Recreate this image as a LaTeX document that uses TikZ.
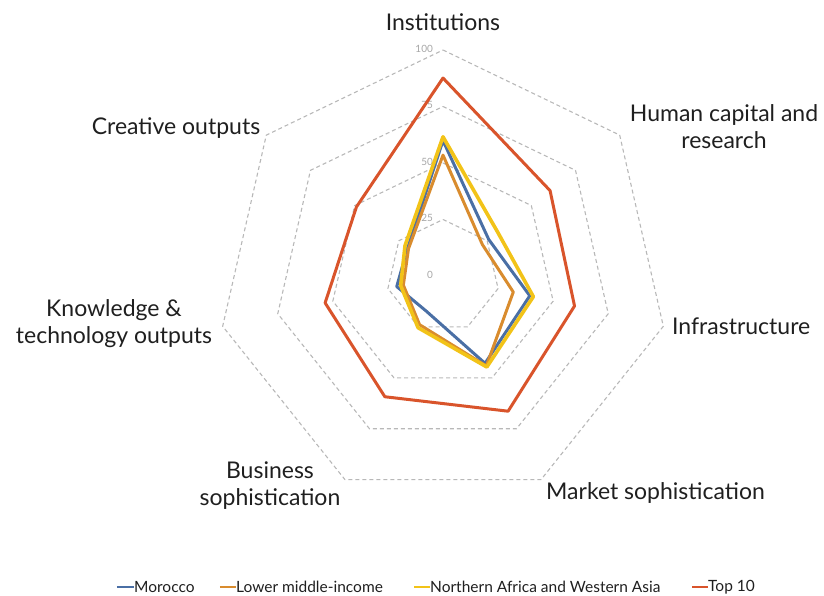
\documentclass[tikz,border=0pt]{standalone}
\usepackage{fontspec}
\setmainfont{Lato}
\usepackage{tikz}
\usetikzlibrary{positioning}

\definecolor{morocco}{HTML}{4A6FA5}
\definecolor{lowmid}{HTML}{D98C2E}
\definecolor{nawa}{HTML}{F2C318}
\definecolor{topten}{HTML}{D9542B}
\definecolor{gridgrey}{HTML}{B8B8B8}
\definecolor{tickgrey}{HTML}{A6A6A6}
\definecolor{labelgrey}{HTML}{1F1F1F}

% one series: colour, then the seven values clockwise from Institutions
\newcommand{\radarseries}[8]{%
  \draw[series,#1] (90:#2) -- (38.571:#3) -- (-12.857:#4) -- (-64.286:#5)
    -- (-115.714:#6) -- (-167.143:#7) -- (141.429:#8) -- cycle;}

\tikzset{
  ring/.style={gridgrey, line width=1.1pt, dash pattern=on 4pt off 3pt},
  series/.style={line width=3pt, line join=round},
  axislabel/.style={text=labelgrey, align=center, inner sep=0pt,
    font=\fontsize{23}{27}\selectfont},
  ticklabel/.style={text=tickgrey, anchor=east, inner sep=0pt,
    font=\fontsize{10}{11}\selectfont},
  legendtext/.style={text=labelgrey, anchor=west, inner sep=0pt,
    font=\fontsize{15.5}{18}\selectfont},
  legendline/.style={line width=2.6pt}
}

\begin{document}
\begin{tikzpicture}[x=1pt, y=1pt]
  \useasboundingbox (-443,-319) rectangle (381,276);

  \begin{scope}[scale=2.26]
    % grid rings
    \foreach \r in {25,50,75,100}
      \draw[ring] (90:\r) \foreach \a in {1,...,6} { -- ({90-\a*360/7}:\r) } -- cycle;
    % scale values
    \foreach \r in {0,25,50,75,100}
      \node[ticklabel] (tick\r) at (-4.4,\r+0.5) {\r};
    % data
    \radarseries{morocco}{59.9}{25.9}{39.4}{42.9}{17.2}{21}{20}
    \radarseries{lowmid}{53.5}{22.3}{31.9}{44.2}{23.9}{18}{19.5}
    \radarseries{nawa, line width=3.6pt}{61.6}{31}{41}{44.7}{25.4}{19.2}{21.5}
    \radarseries{topten}{87.6}{60.6}{59.7}{66.4}{59.3}{53.5}{49}
  \end{scope}

  % axis labels
  \node[axislabel, anchor=base] (inst) at (0,246) {Institutions};
  \node[axislabel] (human) at (281,149) {Human capital and\\research};
  \node[axislabel, anchor=west] (infra) at (229,-50) {Infrastructure};
  \node[axislabel, anchor=base west] (market) at (103,-223) {Market sophistication};
  \node[axislabel] (business) at (-173,-210) {Business\\sophistication};
  \node[axislabel] (knowledge) at (-329,-48) {Knowledge \&\\technology outputs};
  \node[axislabel] (creative) at (-267,148) {Creative outputs};

  % legend
  \node[legendtext] (legmor) at (-309,-311) {Morocco};
  \node[legendtext] (leglow) at (-207,-311) {Lower middle-income};
  \node[legendtext] (legnawa) at (-13,-311) {Northern Africa and Western Asia};
  \node[legendtext] (legtop) at (265,-311) {Top 10};
  \draw[legendline, morocco] ([xshift=-17pt]legmor.west) -- (legmor.west);
  \draw[legendline, lowmid] ([xshift=-16pt]leglow.west) -- (leglow.west);
  \draw[legendline, nawa] ([xshift=-16pt]legnawa.west) -- (legnawa.west);
  \draw[legendline, topten] ([xshift=-16pt]legtop.west) -- (legtop.west);
\end{tikzpicture}
\end{document}
